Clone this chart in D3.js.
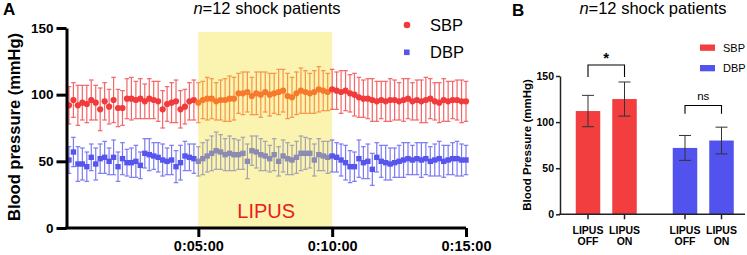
<!DOCTYPE html>
<html>
<head>
<meta charset="utf-8" />
<title>LIPUS blood pressure</title>
<script src="https://cdn.jsdelivr.net/npm/d3@7"></script>
<style>
  body { margin: 0; background: #fff; }
  svg { font-family: "Liberation Sans", Arial, sans-serif; }
</style>
</head>
<body>
<svg id="chart" width="747" height="255"></svg>
<script>
// panel A: time course, one point every 10 s
const timesSec = d3.range(10, 901, 10)
const lipusWindow = [300, 600]
const timeTicks = [300, 600, 900]
const timeTickLabels = ['0:05:00', '0:10:00', '0:15:00']
const bpTicks = [0, 50, 100, 150]

const sbpMean = [92, 96, 92, 94, 93, 96, 94, 89, 95, 91, 96, 90, 90, 97, 97, 96, 97, 95, 97, 96, 95, 89, 93, 94, 95, 89, 91, 95, 96,
  94, 96, 97, 97, 95, 96, 96, 97, 97, 101, 101, 102, 99, 101, 100, 102, 100, 101, 102, 103, 99, 98, 101, 103, 102, 101, 102, 104, 103, 102,
  104, 103, 102, 103, 101, 100, 98, 97, 97, 96, 95, 96, 95, 96, 96, 95, 96, 97, 95, 96, 95, 96, 97, 95, 94, 96, 95, 96, 96, 95, 95]
const sbpSd = [14, 13, 15, 13, 14, 15, 13, 16, 14, 13, 17, 14, 13, 15, 16, 14, 15, 13, 15, 14, 15, 14, 13, 15, 16, 14, 13, 14, 15,
  15, 14, 16, 15, 14, 15, 16, 17, 16, 15, 16, 15, 14, 16, 17, 15, 16, 15, 17, 16, 17, 15, 16, 17, 16, 15, 16, 17, 15, 14,
  15, 14, 16, 15, 14, 16, 15, 14, 15, 16, 15, 14, 15, 16, 15, 14, 16, 15, 14, 15, 16, 17, 15, 14, 15, 16, 15, 14, 15, 16, 15]
const dbpMean = [51, 57, 48, 48, 46, 53, 48, 52, 53, 50, 53, 46, 52, 49, 49, 50, 47, 56, 55, 54, 53, 51, 50, 51, 46, 49, 54, 53, 52,
  50, 52, 54, 56, 58, 57, 55, 56, 55, 55, 56, 50, 58, 57, 55, 54, 52, 55, 50, 54, 52, 51, 53, 56, 56, 56, 51, 55, 54, 53,
  54, 53, 51, 49, 46, 46, 52, 49, 50, 44, 53, 50, 49, 48, 49, 50, 51, 52, 51, 52, 51, 52, 50, 51, 52, 50, 51, 52, 52, 51, 51]
const dbpSd = [10, 11, 13, 12, 11, 10, 12, 11, 12, 10, 13, 11, 12, 10, 11, 12, 10, 11, 12, 10, 11, 12, 10, 11, 12, 13, 11, 10, 11,
  11, 12, 12, 13, 14, 13, 12, 13, 12, 11, 12, 13, 11, 12, 12, 11, 10, 12, 11, 12, 12, 11, 12, 13, 12, 11, 12, 12, 11, 12,
  12, 11, 12, 13, 12, 11, 14, 12, 13, 12, 11, 12, 13, 12, 11, 12, 13, 12, 11, 12, 13, 12, 11, 12, 13, 12, 11, 12, 13, 12, 11]

// panel B: summary bars
const groups = ['SBP', 'DBP']
const conditions = ['OFF', 'ON']
const barMeans = { SBP: [112, 125], DBP: [72, 80] }
const barSds = { SBP: [17, 18.5], DBP: [13.5, 14.5] }
const sigLabels = { SBP: '*', DBP: 'ns' }
const sigHeights = { SBP: [162, 149], DBP: [118, 109] }

const svg = d3.select('#chart')

// ---------- panel A ----------
const xA = d3.scaleLinear().domain([0, 900]).range([64.5, 466])
const yA = d3.scaleLinear().domain([0, 150]).range([228, 28])

const colA = {
  SBP: { base: '#f03a3c', lipus: '#f77a2c' },
  DBP: { base: '#5656ee', lipus: '#8c8cb2' }
}
function inLipus(t) { return t >= lipusWindow[0] && t < lipusWindow[1] }

svg.append('rect')
  .attr('x', xA(lipusWindow[0])).attr('y', yA(147))
  .attr('width', xA(lipusWindow[1]) - xA(lipusWindow[0]))
  .attr('height', yA(0) - yA(147))
  .attr('fill', '#fbf4b0')

svg.append('text').attr('x', (xA(lipusWindow[0]) + xA(lipusWindow[1])) / 2 + 1).attr('y', 218)
  .attr('text-anchor', 'middle').attr('font-size', 20).attr('fill', '#e8201c').text('LIPUS')

function series(name, means, sds) {
  let rows = timesSec.map((t, i) => ({ t: t, v: means[i], sd: sds[i] }))
  let c = d => inLipus(d.t) ? colA[name].lipus : colA[name].base
  let g = svg.append('g').attr('class', name)
  let eb = g.selectAll('g.eb').data(rows).enter().append('g').attr('class', 'eb')
    .attr('stroke', c).attr('stroke-width', 1.2).attr('opacity', 0.78)
  eb.append('line').attr('x1', d => xA(d.t)).attr('x2', d => xA(d.t))
    .attr('y1', d => yA(d.v - d.sd)).attr('y2', d => yA(d.v + d.sd))
  eb.append('line').attr('x1', d => xA(d.t) - 2.3).attr('x2', d => xA(d.t) + 2.3)
    .attr('y1', d => yA(d.v + d.sd)).attr('y2', d => yA(d.v + d.sd))
  eb.append('line').attr('x1', d => xA(d.t) - 2.3).attr('x2', d => xA(d.t) + 2.3)
    .attr('y1', d => yA(d.v - d.sd)).attr('y2', d => yA(d.v - d.sd))
  return { g: g, rows: rows, c: c }
}

let sbpS = series('SBP', sbpMean, sbpSd)
let dbpS = series('DBP', dbpMean, dbpSd)
sbpS.g.selectAll('circle').data(sbpS.rows).enter().append('circle')
  .attr('cx', d => xA(d.t)).attr('cy', d => yA(d.v)).attr('r', 3.1).attr('fill', sbpS.c)
dbpS.g.selectAll('rect').data(dbpS.rows).enter().append('rect')
  .attr('x', d => xA(d.t) - 2.7).attr('y', d => yA(d.v) - 2.7)
  .attr('width', 5.4).attr('height', 5.4).attr('fill', dbpS.c)

let yAxisA = svg.append('g').attr('transform', 'translate(66.5,0)')
  .call(d3.axisLeft(yA).tickValues(bpTicks).tickSize(10).tickSizeOuter(0).tickPadding(3))
let xAxisA = svg.append('g').attr('transform', 'translate(0,228)')
  .call(d3.axisBottom(xA).tickValues(timeTicks).tickSize(9).tickSizeOuter(0).tickPadding(3.5)
    .tickFormat((d, i) => timeTickLabels[i]))
for (let ax of [yAxisA, xAxisA]) {
  ax.select('.domain').attr('stroke', '#000').attr('stroke-width', 3)
  ax.selectAll('.tick line').attr('stroke', '#000').attr('stroke-width', 3)
  ax.selectAll('.tick text').attr('fill', '#000').attr('font-weight', 'bold')
    .attr('font-family', '"Liberation Sans", Arial, sans-serif')
}
yAxisA.selectAll('.tick text').attr('font-size', 13.5)
xAxisA.selectAll('.tick text').attr('font-size', 14.5)
xAxisA.select('.domain').attr('d', 'M65,0H466')

svg.append('text').attr('transform', 'translate(20,127) rotate(-90)')
  .attr('text-anchor', 'middle').attr('font-size', 16.5).attr('font-weight', 'bold')
  .text('Blood pressure (mmHg)')

svg.append('text').attr('x', 3).attr('y', 15).attr('font-size', 17).attr('font-weight', 'bold').text('A')
let tA = svg.append('text').attr('x', 267).attr('y', 14).attr('text-anchor', 'middle').attr('font-size', 16.5)
tA.append('tspan').attr('font-style', 'italic').text('n')
tA.append('tspan').text('=12 shock patients')

// legend A
svg.append('circle').attr('cx', 407).attr('cy', 25).attr('r', 3.3).attr('fill', colA.SBP.base)
svg.append('rect').attr('x', 404).attr('y', 49.5).attr('width', 5.6).attr('height', 5.6).attr('fill', colA.DBP.base)
svg.append('text').attr('x', 430).attr('y', 30.5).attr('font-size', 16.5).text('SBP')
svg.append('text').attr('x', 430).attr('y', 58).attr('font-size', 16.5).text('DBP')

// ---------- panel B ----------
const yB = d3.scaleLinear().domain([0, 150]).range([214.3, 76])
const xGroup = d3.scaleBand().domain(groups).range([575.75, 733.75]).paddingInner(0.371)
const xCond = d3.scaleBand().domain(conditions).range([0, xGroup.bandwidth()]).paddingInner(0.329)
const colB = { SBP: '#f23e3e', DBP: '#5252ee' }

let barRows = []
groups.forEach(gr => conditions.forEach((c, j) => barRows.push({ g: gr, c: c, v: barMeans[gr][j], sd: barSds[gr][j] })))
const bx = d => xGroup(d.g) + xCond(d.c)
const bw = xCond.bandwidth()

svg.selectAll('rect.bar').data(barRows).enter().append('rect').attr('class', 'bar')
  .attr('x', bx).attr('y', d => yB(d.v)).attr('width', bw).attr('height', d => yB(0) - yB(d.v))
  .attr('fill', d => colB[d.g])

let ebB = svg.selectAll('g.ebB').data(barRows).enter().append('g').attr('class', 'ebB')
  .attr('stroke', '#333').attr('stroke-width', 1)
ebB.append('line').attr('x1', d => bx(d) + bw / 2).attr('x2', d => bx(d) + bw / 2)
  .attr('y1', d => yB(d.v - d.sd)).attr('y2', d => yB(d.v + d.sd))
ebB.append('line').attr('x1', d => bx(d) + bw / 2 - 6).attr('x2', d => bx(d) + bw / 2 + 6)
  .attr('y1', d => yB(d.v + d.sd)).attr('y2', d => yB(d.v + d.sd))
ebB.append('line').attr('x1', d => bx(d) + bw / 2 - 6).attr('x2', d => bx(d) + bw / 2 + 6)
  .attr('y1', d => yB(d.v - d.sd)).attr('y2', d => yB(d.v - d.sd))

// significance brackets
groups.forEach(gr => {
  let xa = xGroup(gr) + xCond('OFF') + bw / 2
  let xb = xGroup(gr) + xCond('ON') + bw / 2
  let [top, low] = sigHeights[gr]
  svg.append('path').attr('fill', 'none').attr('stroke', '#000').attr('stroke-width', 1.1)
    .attr('d', `M${xa},${yB(low)}V${yB(top)}H${xb}V${yB(low)}`)
  let isStar = sigLabels[gr] === '*'
  svg.append('text').attr('x', (xa + xb) / 2).attr('y', yB(top) - (isStar ? 2 : 6))
    .attr('text-anchor', 'middle').attr('font-size', isStar ? 15 : 11.5)
    .attr('font-weight', isStar ? 'bold' : 'normal').text(sigLabels[gr])
})

let yAxisB = svg.append('g').attr('transform', 'translate(560,0)')
  .call(d3.axisLeft(yB).tickValues(bpTicks).tickSize(4).tickSizeOuter(0).tickPadding(2))
yAxisB.select('.domain').attr('stroke', '#222').attr('stroke-width', 1.5)
yAxisB.selectAll('.tick line').attr('stroke', '#222').attr('stroke-width', 1.5)
yAxisB.selectAll('.tick text').attr('fill', '#000').attr('font-size', 10.5).attr('font-weight', 'bold')
  .attr('font-family', '"Liberation Sans", Arial, sans-serif')

svg.append('line').attr('x1', 559).attr('x2', 745).attr('y1', yB(0)).attr('y2', yB(0))
  .attr('stroke', '#222').attr('stroke-width', 1.5)

let xLab = svg.selectAll('g.xlab').data(barRows).enter().append('g').attr('class', 'xlab')
xLab.append('line').attr('x1', d => bx(d) + bw / 2).attr('x2', d => bx(d) + bw / 2)
  .attr('y1', yB(0)).attr('y2', yB(0) + 5).attr('stroke', '#222').attr('stroke-width', 1.5)
xLab.append('text').attr('x', d => bx(d) + bw / 2).attr('y', 233.5).attr('text-anchor', 'middle')
  .attr('font-size', 10.5).attr('font-weight', 'bold').text('LIPUS')
xLab.append('text').attr('x', d => bx(d) + bw / 2).attr('y', 245).attr('text-anchor', 'middle')
  .attr('font-size', 10.5).attr('font-weight', 'bold').text(d => d.c)

svg.append('text').attr('transform', 'translate(531,145) rotate(-90)')
  .attr('text-anchor', 'middle').attr('font-size', 11.5).attr('font-weight', 'bold')
  .text('Blood Pressure (mmHg)')

svg.append('text').attr('x', 512).attr('y', 16).attr('font-size', 17).attr('font-weight', 'bold').text('B')
let tB = svg.append('text').attr('x', 653).attr('y', 14).attr('text-anchor', 'middle').attr('font-size', 16.5)
tB.append('tspan').attr('font-style', 'italic').text('n')
tB.append('tspan').text('=12 shock patients')

// legend B
groups.forEach((gr, i) => {
  svg.append('rect').attr('x', 700).attr('y', 44.5 + i * 20.5).attr('width', 15).attr('height', 6.3).attr('fill', colB[gr])
  svg.append('text').attr('x', 723).attr('y', 51.5 + i * 20.5).attr('font-size', 11).text(gr)
})
</script>
</body>
</html>
